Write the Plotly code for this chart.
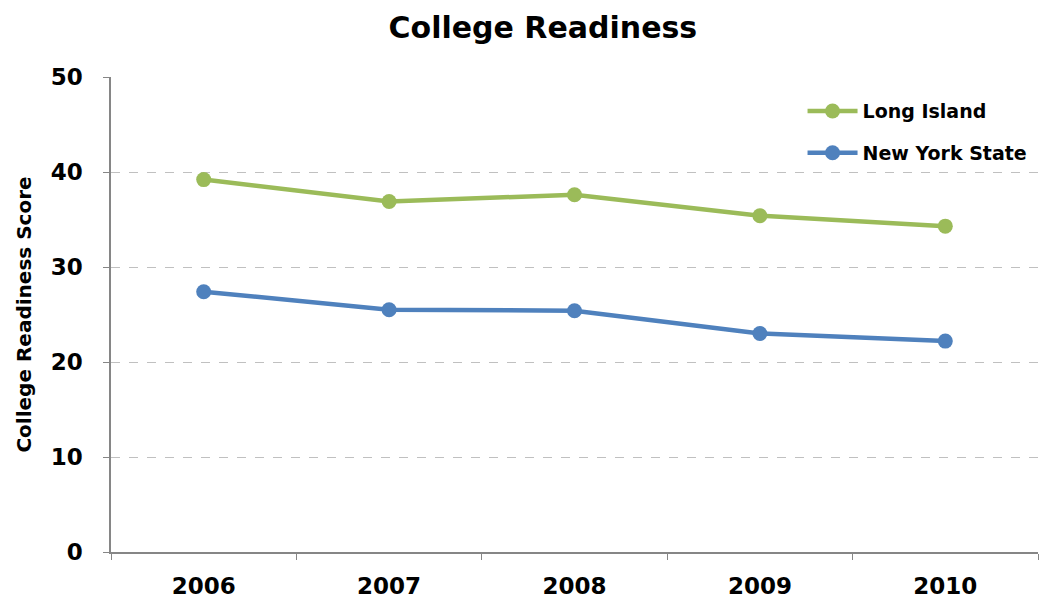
import plotly.graph_objects as go

years = ["2006", "2007", "2008", "2009", "2010"]
long_island = [39.2, 36.9, 37.6, 35.4, 34.3]
new_york_state = [27.4, 25.5, 25.4, 23.0, 22.2]

GREEN = "#9BBB59"
BLUE = "#4F81BD"
AXIS = "#868686"
FONT = "DejaVu Sans"

fig = go.Figure()
fig.add_trace(go.Scatter(
    x=years, y=long_island, name="Long Island", mode="lines+markers",
    line=dict(color=GREEN, width=4.5), marker=dict(color=GREEN, size=15),
    legendgroup="li",
))
fig.add_trace(go.Scatter(
    x=years, y=new_york_state, name="New York State", mode="lines+markers",
    line=dict(color=BLUE, width=4.5), marker=dict(color=BLUE, size=15),
    legendgroup="nys",
))

fig.update_layout(
    width=1042, height=603,
    margin=dict(l=111, r=4, t=77, b=48),
    paper_bgcolor="white", plot_bgcolor="white",
    font=dict(family=FONT, color="black"),
    title=dict(text="College Readiness", x=0.521, xanchor="center",
               y=0.955, yanchor="middle",
               font=dict(size=30, family=FONT, weight="bold")),
    showlegend=True,
    legend=dict(x=0.746, y=0.968, xanchor="left", yanchor="top",
                font=dict(size=19, family=FONT, weight="bold"),
                tracegroupgap=14, itemwidth=50,
                bgcolor="rgba(0,0,0,0)"),
    xaxis=dict(
        type="category", range=[-0.5, 4.5],
        showline=True, linecolor=AXIS, linewidth=1.5,
        ticks="outside", ticklen=6, tickcolor=AXIS,
        tickson="boundaries", showgrid=False,
        tickfont=dict(size=23, family=FONT, weight="bold"),
        ticklabelstandoff=13,
    ),
    yaxis=dict(
        range=[0, 50], tickvals=[0, 10, 20, 30, 40, 50],
        showline=True, linecolor=AXIS, linewidth=1.5,
        ticks="outside", ticklen=6, tickcolor=AXIS,
        showgrid=True, gridcolor="#C0C0C0", griddash="dash", gridwidth=1,
        zeroline=False,
        tickfont=dict(size=23, family=FONT, weight="bold"),
        ticklabelstandoff=16,
        title=dict(text="College Readiness Score",
                   font=dict(size=20, family=FONT, weight="bold"),
                   standoff=14),
    ),
)

fig.write_html("out.html")
